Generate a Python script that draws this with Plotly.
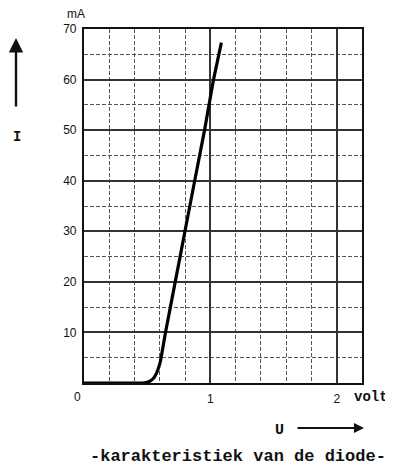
import plotly.graph_objects as go

# Data: diode characteristic I (mA) vs U (volt)
voltage = [0.0, 0.46, 0.50, 0.53, 0.555, 0.575, 0.59, 0.605, 0.645, 0.722, 0.799, 0.876, 0.954, 1.025, 1.087]
current = [0.0, 0.0, 0.15, 0.5, 1.1, 2.0, 3.0, 4.3, 10.0, 20.0, 30.0, 40.0, 50.0, 60.0, 67.3]

y_ticks = [10, 20, 30, 40, 50, 60, 70]
y_tick_text = ["10", "20", "30", "40", "50", "60", "70"]
x_ticks = [1, 2]
x_tick_text = ["1", "2"]

OFF = 8  # default body margin of the page
W, H = 393 - OFF, 468 - OFF
L, T = 84 - OFF, 29 - OFF
R = W - (362 - OFF)
B = H - (383 - OFF)
PW, PH = W - L - R, H - T - B


def px(x):
    return (x - OFF - L) / PW


def py(y):
    return (H - B - (y - OFF)) / PH


fig = go.Figure()
fig.add_trace(go.Scatter(x=voltage, y=current, mode="lines",
                         line=dict(color="black", width=3.2, shape="spline", smoothing=0.3),
                         hoverinfo="skip", showlegend=False))

axis_common = dict(showline=True, mirror=True, linecolor="#111", linewidth=2.2,
                   showgrid=True, gridcolor="#333", gridwidth=1.6,
                   ticks="", zeroline=False, fixedrange=True)

fig.update_xaxes(range=[0, 2.2], tickvals=x_ticks, ticktext=x_tick_text,
                 minor=dict(dtick=0.2, tick0=0, showgrid=True, gridcolor="#555",
                            griddash="4px,2px", gridwidth=1.3),
                 tickfont=dict(family="Liberation Sans", size=12, color="#111"),
                 ticklabelstandoff=3,
                 **axis_common)
fig.update_yaxes(range=[0, 70], tickvals=y_ticks, ticktext=y_tick_text,
                 minor=dict(dtick=5, tick0=0, showgrid=True, gridcolor="#555",
                            griddash="4px,2px", gridwidth=1.3),
                 tickfont=dict(family="Liberation Sans", size=12, color="#111"),
                 ticklabelstandoff=3,
                 **axis_common)

mono = dict(family="Liberation Mono", color="#111")
ann = [
    dict(x=px(76), y=py(14), text="mA", font=dict(family="Liberation Sans", size=12, color="#111")),
    dict(x=px(77), y=py(397), text="0", font=dict(family="Liberation Sans", size=12, color="#111")),
    dict(x=px(371), y=py(397), text="<b>volt</b>", font=dict(size=14, **mono)),
    dict(x=px(17), y=py(137), text="<b>I</b>", font=dict(size=14, **mono)),
    dict(x=px(279), y=py(430), text="<b>U</b>", font=dict(size=15, **mono)),
    dict(x=px(238), y=py(456), text="<b>-karakteristiek van de diode-</b>", font=dict(size=17, **mono)),
]
annotations = [dict(xref="paper", yref="paper", showarrow=False,
                    xanchor="center", yanchor="middle", **a) for a in ann]
annotations.append(dict(xref="paper", yref="paper", x=px(16), y=py(38), ax=0, ay=70,
                        text="", showarrow=True, arrowhead=2, arrowsize=1.2,
                        arrowwidth=2.4, arrowcolor="#111"))
annotations.append(dict(xref="paper", yref="paper", x=px(364), y=py(428), ax=-68, ay=0,
                        text="", showarrow=True, arrowhead=2, arrowsize=1.0,
                        arrowwidth=2.0, arrowcolor="#111"))

fig.update_layout(width=W, height=H, margin=dict(l=L, r=R, t=T, b=B),
                  paper_bgcolor="white", plot_bgcolor="white",
                  annotations=annotations, showlegend=False)

fig.write_html("out.html", config={"displayModeBar": False})
